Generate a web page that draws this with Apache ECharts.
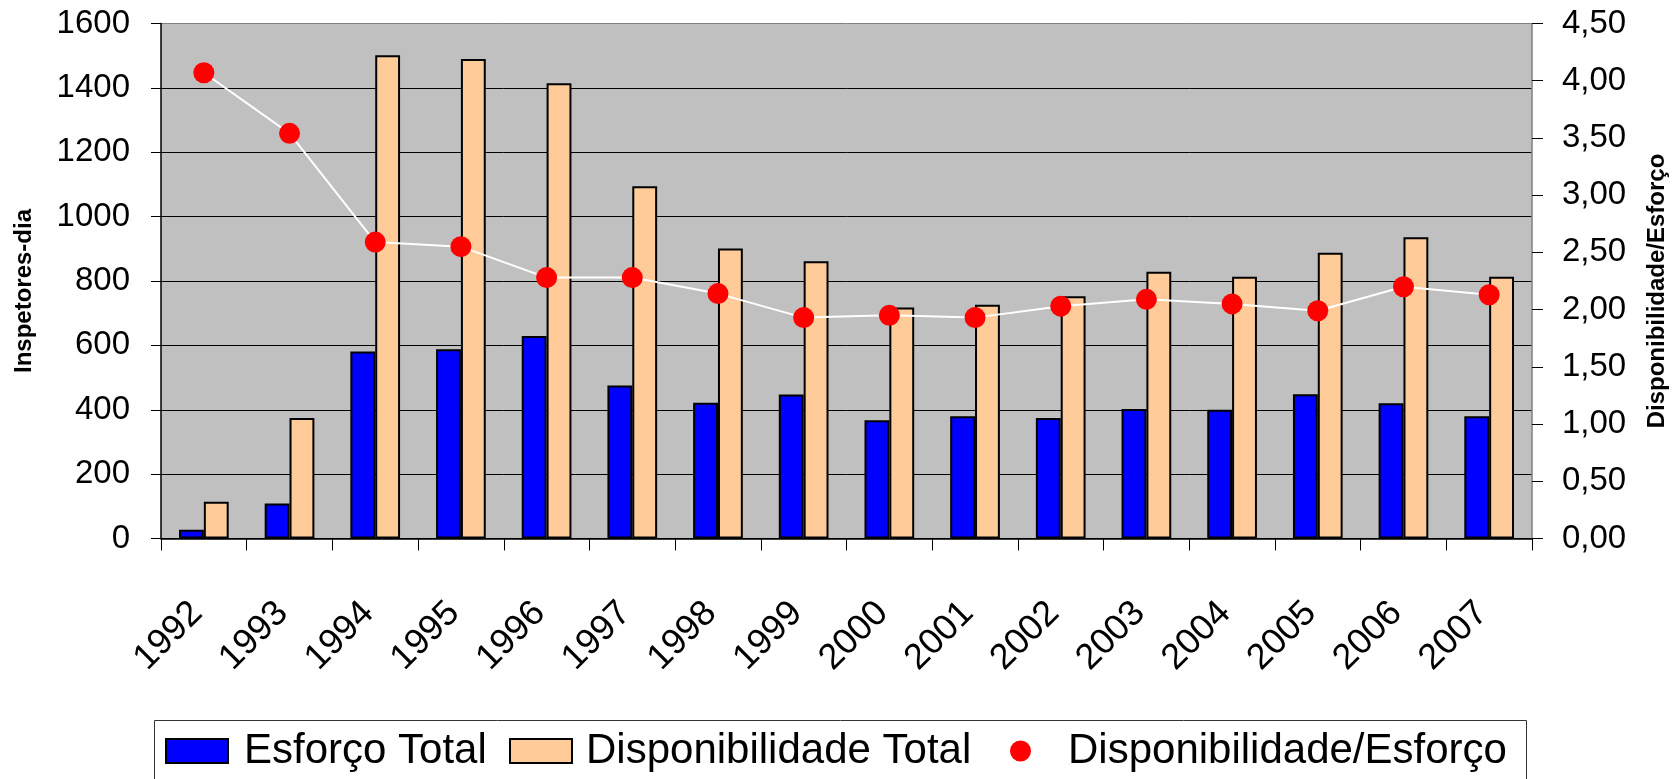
<!DOCTYPE html>
<html>
<head>
<meta charset="utf-8">
<script src="https://cdn.jsdelivr.net/npm/echarts@6/dist/echarts.min.js"></script>
<style>
html,body{margin:0;padding:0;background:#fff;}
#chart{width:1677px;height:779px;}
</style>
</head>
<body>
<div id="chart"></div>
<script>
const years = ['1992','1993','1994','1995','1996','1997','1998','1999','2000','2001','2002','2003','2004','2005','2006','2007'];
const esforcoTotal = [27,109,581,588,629,475,422,447,367,380,374,402,400,448,420,380];
const disponibilidadeTotal = [114,374,1501,1490,1414,1094,901,861,718,726,753,829,813,888,936,813];
const disponibilidadeEsforco = [4.07,3.54,2.59,2.55,2.28,2.28,2.14,1.93,1.95,1.93,2.03,2.09,2.05,1.99,2.20,2.13];

const FONT = "'Liberation Sans', Arial, sans-serif";
const chart = echarts.init(document.getElementById('chart'));

const legendText = {color:'#000', fontSize:42, fontFamily:FONT, lineHeight:42};

chart.setOption({
  animation:false,
  backgroundColor:'#fff',
  grid:{left:161, right:145, top:23.5, bottom:240.5, show:true, backgroundColor:'#C0C0C0', borderWidth:0},
  graphic:[{
    type:'rect', left:152, top:718, silent:true,
    shape:{width:1372, height:100},
    style:{fill:'none', stroke:'#333', lineWidth:1}
  }],
  legend:[
    {left:165, top:730, padding:0, itemWidth:62, itemHeight:24, icon:'rect',
     data:['Esforço Total'], textStyle:Object.assign({padding:[0,0,0,11]}, legendText)},
    {left:509, top:730, padding:0, itemWidth:62, itemHeight:24, icon:'rect',
     data:['Disponibilidade Total'], textStyle:Object.assign({padding:[0,0,0,9]}, legendText)},
    {left:1010, top:730, padding:0, itemWidth:21, itemHeight:21, icon:'circle',
     data:['Disponibilidade/Esforço'], textStyle:Object.assign({padding:[0,0,0,32]}, legendText)}
  ],
  xAxis:{
    type:'category', data:years,
    axisLine:{lineStyle:{color:'#000', width:1.5}},
    axisTick:{show:true, length:12, lineStyle:{color:'#000', width:1}},
    axisLabel:{rotate:45, margin:62, fontSize:36, color:'#000', fontFamily:FONT,
      formatter:function(v){return '{v|' + v + '}{s|}';},
      rich:{v:{fontSize:36, color:'#000', fontFamily:FONT}, s:{width:10}}},
    splitLine:{show:false}
  },
  yAxis:[
    {
      type:'value', min:0, max:1600, interval:200, position:'left',
      name:'Inspetores-dia', nameLocation:'middle', nameRotate:90, nameGap:125,
      nameTextStyle:{fontSize:24, fontWeight:'bold', color:'#000', fontFamily:FONT, padding:[0,20,0,0]},
      axisLine:{show:true, lineStyle:{color:'#000', width:1.5}},
      axisTick:{show:true, length:10, lineStyle:{color:'#000'}},
      axisLabel:{margin:31, fontSize:33, color:'#000', fontFamily:FONT,
        formatter:function(v){return String(v);}},
      splitLine:{show:true, lineStyle:{color:['#000','#000','#000','#000','#000','#000','#000','#000','#808080'], width:1}}
    },
    {
      type:'value', min:0, max:4.5, interval:0.5, position:'right',
      name:'Disponibilidade/Esforço', nameLocation:'middle', nameRotate:90, nameGap:113,
      nameTextStyle:{fontSize:24, fontWeight:'bold', color:'#000', fontFamily:FONT, padding:[0,20,0,0]},
      axisLine:{show:true, lineStyle:{color:'#808080', width:1.5}},
      axisTick:{show:true, length:11, lineStyle:{color:'#000'}},
      axisLabel:{margin:30, fontSize:33, color:'#000', fontFamily:FONT,
        formatter:function(v){return v.toFixed(2).replace('.', ',');}},
      splitLine:{show:false}
    }
  ],
  series:[
    {name:'Esforço Total', type:'bar', data:esforcoTotal, barGap:'0%', barCategoryGap:'42%',
     itemStyle:{color:'#0000FF', borderColor:'#000', borderWidth:2}},
    {name:'Disponibilidade Total', type:'bar', data:disponibilidadeTotal, barGap:'0%', barCategoryGap:'42%',
     itemStyle:{color:'#FFCC99', borderColor:'#000', borderWidth:2}},
    {name:'Disponibilidade/Esforço', type:'line', yAxisIndex:1, data:disponibilidadeEsforco,
     symbol:'circle', symbolSize:21, z:5,
     lineStyle:{color:'#FFFFFF', width:2},
     itemStyle:{color:'#FF0000', borderWidth:0}}
  ]
});
</script>
</body>
</html>
